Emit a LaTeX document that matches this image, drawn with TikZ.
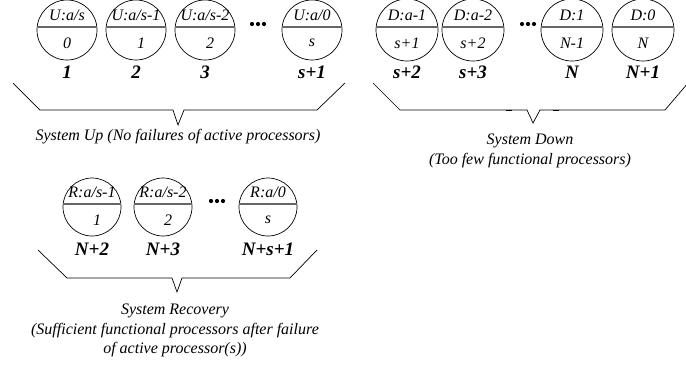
\documentclass[tikz,border=0pt]{standalone}
\usepackage{fontspec}
\setmainfont{Liberation Serif}
\usetikzlibrary{calc}
\newcommand\pstate[8]{% name, x, y, r, upper, lower, lower x-shift, label
  \node[st, minimum size=2*#4] (#1) at (#2,#3) {};
  \draw[div] ($(#1.center)+({-sqrt(#4*#4-9)},-3)$) -- ($(#1.center)+({sqrt(#4*#4-9)},-3)$);
  \node[intxt] (#1u) at ($(#1.center)+(0,-15)$) {#5};
  \node[intxt] (#1l) at ($(#1.center)+(#7,13)$) {#6};
  \node[lab] (#1b) at ($(#1.center)+(0,42)$) {#8};
}
\newcommand\pdots[2]{%
  \foreach \k in {-6,0,6} {\fill (#1+\k,#2) circle (2.1);}
}
\begin{document}
\begin{tikzpicture}[x=1pt,y=-1pt,
  st/.style={circle,draw,line width=0.7pt,inner sep=0pt},
  div/.style={draw=black!60,line width=1.1pt},
  intxt/.style={font=\fontsize{16}{18}\selectfont\itshape,inner sep=0pt},
  lab/.style={font=\fontsize{19}{21}\selectfont\bfseries\itshape,inner sep=0pt},
  txt/.style={font=\fontsize{16}{19.5}\selectfont\itshape,align=center,inner sep=0pt},
  brace/.style={draw,line width=0.7pt}]
\useasboundingbox (0,0) rectangle (686,368);
% top-left group
\pstate{u1}{67}{30}{30}{U:a/s}{0}{0}{1}
\pstate{u2}{136}{30}{30}{U:a/s-1}{1}{5}{2}
\pstate{u3}{205}{30}{30}{U:a/s-2}{2}{5}{3}
\pdots{258}{24}
\pstate{u4}{312}{30}{30}{U:a/0}{s}{0}{s+1}
% top-right group
\pstate{d1}{407}{30}{31}{D:a-1}{s+1}{0}{s+2}
\pstate{d2}{473}{30}{31}{D:a-2}{s+2}{0}{s+3}
\pdots{528}{24}
\pstate{d3}{572}{30}{31}{D:1}{N-1}{0}{N}
\pstate{d4}{643}{30}{31}{D:0}{N}{0}{N+1}
% bottom group
\pstate{r1}{92}{207}{29}{R:a/s-1}{1}{5}{N+2}
\pstate{r2}{163}{207}{29}{R:a/s-2}{2}{5}{N+3}
\pdots{217}{201}
\pstate{r3}{268}{207}{29}{R:a/0}{s}{0}{N+s+1}
% braces
\coordinate (bu) at (178,125);
\draw[brace] (13,83) -- (40,110) -- (173,110) -- (bu) -- (184,110) -- (317,110) -- (345,83);
\node[txt,anchor=north] (tu) at ($(bu)+(0,4)$) {System Up (No failures of active processors)};
\coordinate (bd) at (533,123);
\draw[brace] (373,83) -- (400,110) -- (527,110) -- (bd) -- (540,110) -- (665,110) -- (688,83);
\draw[line width=1.6pt] (506,110.3) -- (512,110.3) (553,110.3) -- (559,110.3);
\node[txt,anchor=north] (td) at ($(bd)+(-3,11)$) {System Down\\(Too few functional processors)};
\coordinate (br) at (177,292);
\draw[brace] (38,250) -- (67,278) -- (172,278) -- (br) -- (182,278) -- (290,278) -- (317,250);
\node[txt,anchor=north] (tr) at ($(br)+(-2,12)$) {System Recovery\\(Sufficient functional processors after failure\\of active processor(s))};
\end{tikzpicture}
\end{document}
